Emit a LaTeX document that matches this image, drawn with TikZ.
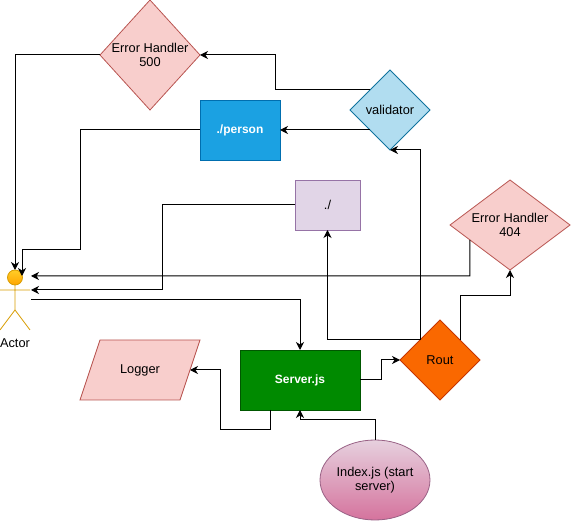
\documentclass[tikz,border=0pt]{standalone}
\usepackage{fontspec}
\setmainfont{Liberation Sans}
\usetikzlibrary{arrows.meta,positioning,calc,shapes.geometric}
\definecolor{errfill}{HTML}{F8CECC}
\definecolor{errline}{HTML}{B85450}
\definecolor{personfill}{HTML}{1BA1E2}
\definecolor{personline}{HTML}{006EAF}
\definecolor{validfill}{HTML}{B1DDF0}
\definecolor{validline}{HTML}{10739E}
\definecolor{rootfill}{HTML}{E1D5E7}
\definecolor{rootline}{HTML}{9673A6}
\definecolor{routfill}{HTML}{FA6800}
\definecolor{routline}{HTML}{C73500}
\definecolor{serverfill}{HTML}{008A00}
\definecolor{serverline}{HTML}{005700}
\definecolor{indextop}{HTML}{E6D0DE}
\definecolor{indexbot}{HTML}{D5739D}
\definecolor{indexline}{HTML}{996185}
\definecolor{actortop}{HTML}{FFCD28}
\definecolor{actorbot}{HTML}{FFA500}
\definecolor{actorline}{HTML}{D79B00}
\newcommand{\errlabel}[1]{\makebox[66pt]{Error Handler}\\#1}
\tikzset{
	box/.style={draw,line width=0.8pt,inner sep=0pt,outer sep=0pt,align=center,font=\fontsize{12.8}{14}\selectfont,text=black},
	boldbox/.style={box,text=white,font=\fontsize{12}{14}\selectfont\bfseries},
	errbox/.style={box,diamond,fill=errfill,draw=errline},
	link/.style={draw=black,line width=1pt,-{Stealth[length=8pt,width=8pt,inset=2.5pt]}}
}
\begin{document}
\begin{tikzpicture}[x=1pt,y=-1pt]
	\useasboundingbox (0,0) rectangle (571,521);
	\node[errbox,aspect=0.909,minimum width=100pt,minimum height=110pt] (err500) at (150,55) {\errlabel{500}};
	\node[errbox,aspect=1.333,minimum width=120pt,minimum height=90pt] (err404) at (510,225) {\errlabel{404}};
	\node[boldbox,fill=personfill,draw=personline,minimum width=80pt,minimum height=60pt] (person) at (240,130) {./person};
	\node[box,diamond,aspect=1,fill=validfill,draw=validline,minimum width=80pt,minimum height=80pt] (validator) at (390,110) {validator};
	\node[box,fill=rootfill,draw=rootline,minimum width=65pt,minimum height=50pt] (root) at (327.5,205) {./};
	\node[box,diamond,aspect=1,fill=routfill,draw=routline,minimum width=80pt,minimum height=80pt] (rout) at (440,360) {Rout};
	\node[boldbox,fill=serverfill,draw=serverline,minimum width=120pt,minimum height=60pt] (server) at (300,380) {Server.js};
	\draw[fill=errfill,draw=errline,line width=0.8pt] (80,400) -- (100,340) -- (200,340) -- (180,400) -- cycle;
	\node[box,draw=none,minimum width=100pt,minimum height=60pt] (logger) at (140,370) {Logger};
	\node[box,ellipse,top color=indextop,bottom color=indexbot,draw=indexline,minimum width=110pt,minimum height=80pt] (index) at (375,480) {Index.js (start\\server)};
	\node[inner sep=0pt,outer sep=0pt,minimum width=30pt,minimum height=60pt] (actor) at (15,300) {};
	\node[box,draw=none,below=9pt of actor] (actorname) {Actor};
	\draw[actorline,line width=0.8pt] (15,285) -- (15,310) (0,290) -- (30,290) (0,330) -- (15,310) -- (30,330);
	\draw[actorline,line width=0.8pt,top color=actortop,bottom color=actorbot] (15,277.5) circle (7.5);
	\coordinate (actorhigh) at ($(actor.north east)+(1,6)$);
	\coordinate (actormid) at ($(actor.north east)+(1,20)$);
	\coordinate (actorhead) at ($(actor.north)+(7,6)$);
	\coordinate (actorout) at ($(actor.east)+(1,0)$);
	\coordinate (err404out) at ($(err404.west)!0.333!(err404.south)$);
	\coordinate (serverout) at ($(server.south west)+(30,0)$);
	\draw[link] (err500.west) -| (actor.north);
	\draw[link] (person.west) -- ++(-120,0) -- ++(0,120) -| (actorhead);
	\draw[link] (root.west) -- ++(-132.5,0) |- (actormid);
	\draw[link] (err404out) -- ++(0,36) -- (actorhigh);
	\draw[link] (actorout) -| (server.north);
	\draw[link] (validator.north west) -- ++(-95,0) |- (err500.east);
	\draw[link] (validator.south west) -- (person.east);
	\draw[link] (rout.north west) -- ++(0,-190) -- (validator.south);
	\draw[link] (rout.north west) -| (root.south);
	\draw[link] (rout.north east) -- ++(0,-44) -| (err404.south);
	\draw[link] (server.east) -- ++(21,0) |- (rout.west);
	\draw[link] (serverout) -- ++(0,20) -- ++(-50,0) |- (logger.east);
	\draw[link] (index.north) -- ++(0,-20) -| (server.south);
\end{tikzpicture}
\end{document}
